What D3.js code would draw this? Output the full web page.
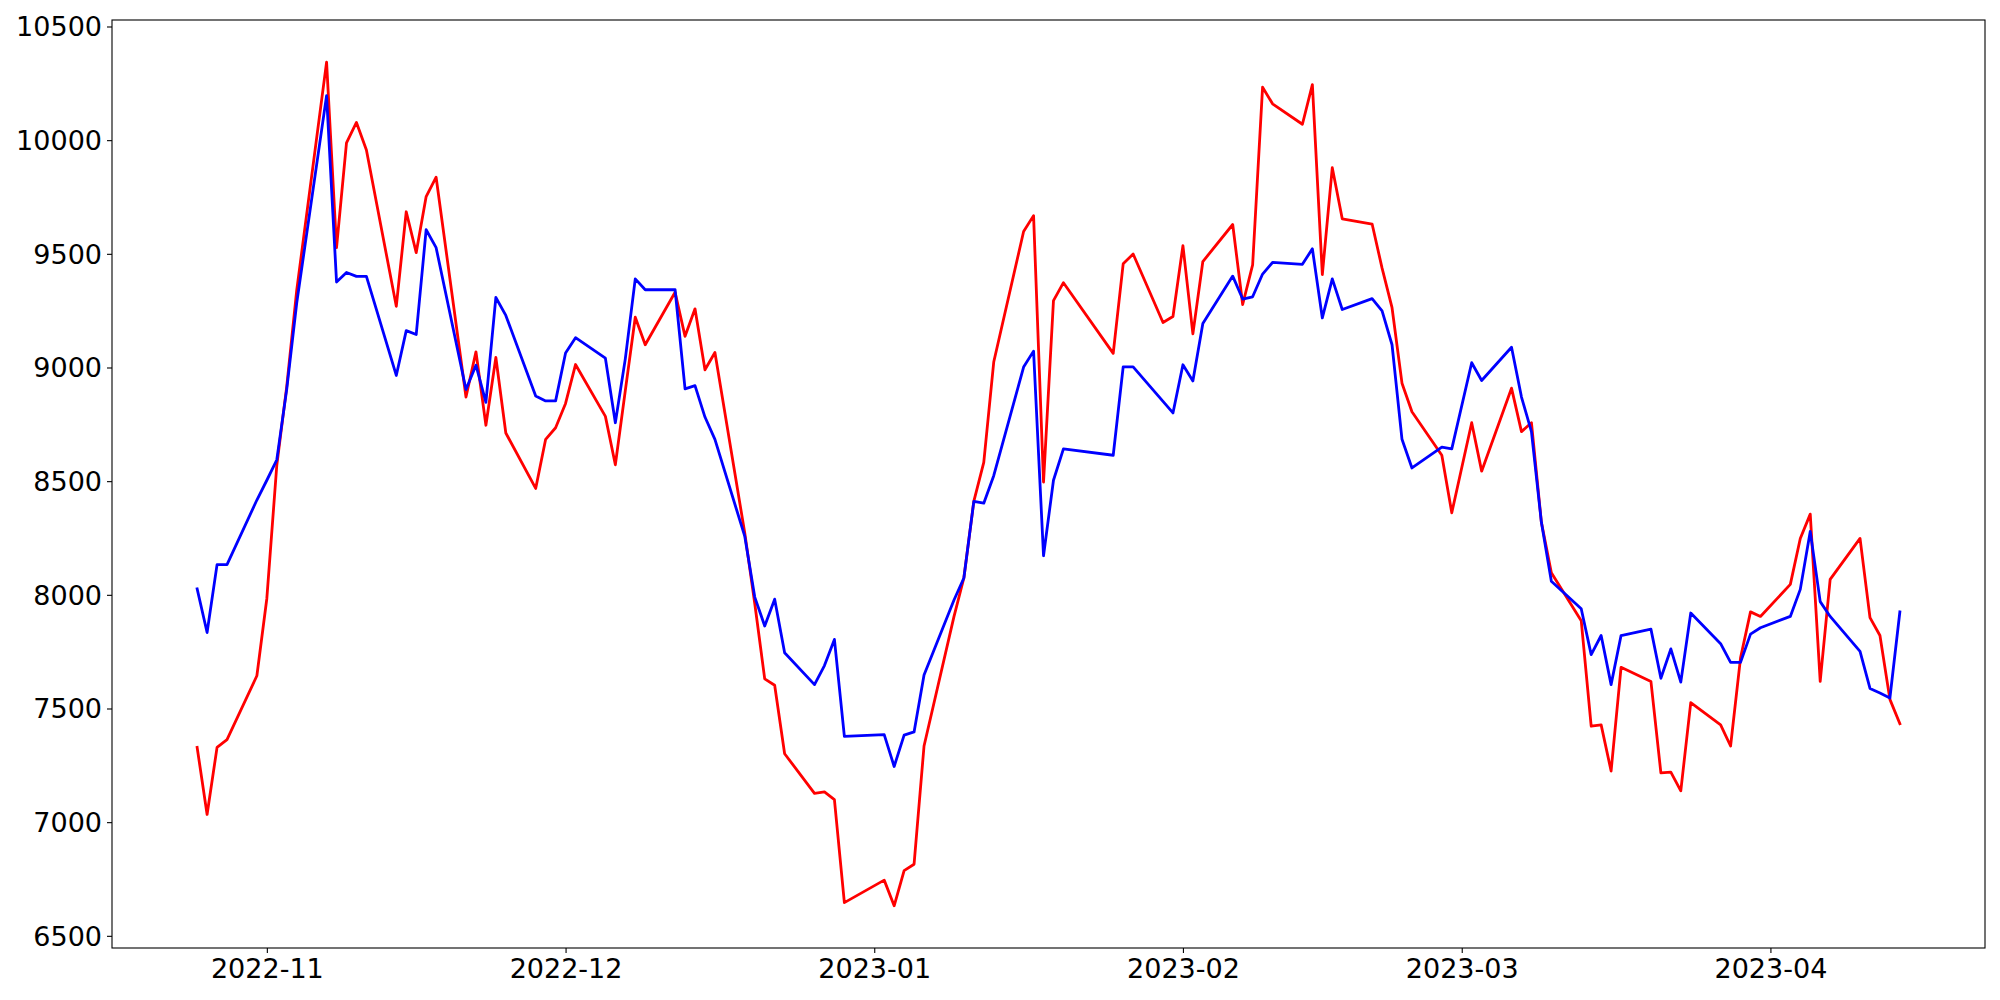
<!DOCTYPE html>
<html>
<head>
<meta charset="utf-8">
<script src="https://cdn.jsdelivr.net/npm/d3@7"></script>
<style>
  html, body { margin: 0; padding: 0; background: #fff; }
  svg { display: block; }
  text { font-family: "DejaVu Sans", sans-serif; }
</style>
</head>
<body>
<svg id="chart" width="2000" height="1000"></svg>
<script>
const dates = [
  "2022-10-25","2022-10-26","2022-10-27","2022-10-28","2022-10-31",
  "2022-11-01","2022-11-02","2022-11-03","2022-11-04","2022-11-07",
  "2022-11-08","2022-11-09","2022-11-10","2022-11-11","2022-11-14",
  "2022-11-15","2022-11-16","2022-11-17","2022-11-18","2022-11-21",
  "2022-11-22","2022-11-23","2022-11-24","2022-11-25","2022-11-28",
  "2022-11-29","2022-11-30","2022-12-01","2022-12-02","2022-12-05",
  "2022-12-06","2022-12-07","2022-12-08","2022-12-09","2022-12-12",
  "2022-12-13","2022-12-14","2022-12-15","2022-12-16","2022-12-19",
  "2022-12-20","2022-12-21","2022-12-22","2022-12-23","2022-12-26",
  "2022-12-27","2022-12-28","2022-12-29","2023-01-02","2023-01-03",
  "2023-01-04","2023-01-05","2023-01-06","2023-01-09","2023-01-10",
  "2023-01-11","2023-01-12","2023-01-13","2023-01-16","2023-01-17",
  "2023-01-18","2023-01-19","2023-01-20","2023-01-25","2023-01-26",
  "2023-01-27","2023-01-30","2023-01-31","2023-02-01","2023-02-02",
  "2023-02-03","2023-02-06","2023-02-07","2023-02-08","2023-02-09",
  "2023-02-10","2023-02-13","2023-02-14","2023-02-15","2023-02-16",
  "2023-02-17","2023-02-20","2023-02-21","2023-02-22","2023-02-23",
  "2023-02-24","2023-02-27","2023-02-28","2023-03-02","2023-03-03",
  "2023-03-06","2023-03-07","2023-03-08","2023-03-09","2023-03-10",
  "2023-03-13","2023-03-14","2023-03-15","2023-03-16","2023-03-17",
  "2023-03-20","2023-03-21","2023-03-22","2023-03-23","2023-03-24",
  "2023-03-27","2023-03-28","2023-03-29","2023-03-30","2023-03-31",
  "2023-04-03","2023-04-04","2023-04-05","2023-04-06","2023-04-07",
  "2023-04-10","2023-04-11","2023-04-12","2023-04-13","2023-04-14"
];

const redValues = [
  7329,7034,7329,7363,7644,
  7984,8570,8917,9339,10343,
  9527,9988,10078,9957,9269,
  9685,9505,9752,9837,8870,
  9069,8746,9044,8712,8468,
  8684,8735,8842,9013,8785,
  8572,8898,9221,9100,9331,
  9137,9258,8990,9066,8271,
  7962,7630,7602,7301,7127,
  7133,7099,6646,6745,6632,
  6787,6815,7335,7903,8074,
  8411,8583,9024,9598,9668,
  8496,9294,9373,9062,9456,
  9499,9198,9224,9536,9148,
  9466,9629,9277,9451,10233,
  10160,10070,10244,9409,9879,
  9654,9631,9437,9263,8931,
  8805,8614,8361,8757,8544,
  8909,8718,8757,8319,8097,
  7886,7422,7428,7225,7681,
  7619,7217,7220,7138,7526,
  7428,7335,7723,7925,7905,
  8046,8248,8355,7619,8068,
  8248,7900,7821,7540,7433
];

const blueValues = [
  8026,7834,8133,8133,8417,
  8504,8594,8905,9283,10196,
  9376,9418,9401,9401,8965,
  9162,9145,9606,9527,8903,
  9010,8847,9308,9229,8875,
  8853,8853,9064,9131,9041,
  8757,9038,9390,9342,9342,
  8906,8920,8782,8684,8257,
  7990,7863,7981,7745,7605,
  7689,7804,7377,7385,7245,
  7383,7397,7647,7976,8074,
  8411,8403,8524,9002,9072,
  8172,8504,8642,8614,9003,
  9003,8851,8800,9012,8941,
  9194,9402,9301,9311,9411,
  9462,9454,9522,9218,9390,
  9255,9303,9249,9100,8684,
  8558,8650,8642,9021,8943,
  9089,8870,8718,8319,8060,
  7939,7737,7821,7605,7821,
  7849,7633,7762,7616,7920,
  7785,7703,7703,7827,7855,
  7905,8024,8279,7970,7905,
  7751,7588,7568,7546,7925
];

const yTickValues = [6500,7000,7500,8000,8500,9000,9500,10000,10500];
const xTickLabels = ["2022-11","2022-12","2023-01","2023-02","2023-03","2023-04"];

const parse = d3.utcParse("%Y-%m-%d");
const parseMonth = d3.utcParse("%Y-%m");
const dt = dates.map(parse);

const margin = {left: 112, right: 15, top: 20, bottom: 52};
const W = 2000, H = 1000;

// matplotlib-style 5% margins
const tExt = d3.extent(dt);
const tPad = (tExt[1] - tExt[0]) * 0.05;
const x = d3.scaleUtc()
  .domain([new Date(+tExt[0] - tPad), new Date(+tExt[1] + tPad)])
  .range([margin.left, W - margin.right]);

const allV = redValues.concat(blueValues);
const vExt = d3.extent(allV);
const vPad = (vExt[1] - vExt[0]) * 0.05;
const y = d3.scaleLinear()
  .domain([vExt[0] - vPad, vExt[1] + vPad])
  .range([H - margin.bottom, margin.top]);

const svg = d3.select("#chart");

const line = d3.line()
  .x((d, i) => x(dt[i]))
  .y(d => y(d));

svg.append("path")
  .datum(redValues)
  .attr("fill", "none")
  .attr("stroke", "#ff0000")
  .attr("stroke-width", 2.8)
  .attr("stroke-linejoin", "round")
  .attr("stroke-linecap", "square")
  .attr("d", line);

svg.append("path")
  .datum(blueValues)
  .attr("fill", "none")
  .attr("stroke", "#0000ff")
  .attr("stroke-width", 2.8)
  .attr("stroke-linejoin", "round")
  .attr("stroke-linecap", "square")
  .attr("d", line);

// Axes
const fontSize = "27px";
const xAxis = d3.axisBottom(x)
  .tickValues(xTickLabels.map(parseMonth))
  .tickFormat(d3.utcFormat("%Y-%m"))
  .tickSize(5)
  .tickPadding(5);

const gx = svg.append("g")
  .attr("transform", `translate(0,${H - margin.bottom})`)
  .call(xAxis);
gx.select(".domain").remove();
gx.selectAll("line").attr("stroke", "#000").attr("stroke-width", 1.1);
gx.selectAll("text").attr("font-size", fontSize).attr("fill", "#000")
  .attr("font-family", "DejaVu Sans").attr("dy", "0.75em");

const yAxis = d3.axisLeft(y)
  .tickValues(yTickValues)
  .tickFormat(d3.format("d"))
  .tickSize(5)
  .tickPadding(5);

const gy = svg.append("g")
  .attr("transform", `translate(${margin.left},0)`)
  .call(yAxis);
gy.select(".domain").remove();
gy.selectAll("line").attr("stroke", "#000").attr("stroke-width", 1.1);
gy.selectAll("text").attr("font-size", fontSize).attr("fill", "#000")
  .attr("font-family", "DejaVu Sans").attr("dy", "0.35em");

// frame
svg.append("rect")
  .attr("x", margin.left)
  .attr("y", margin.top)
  .attr("width", W - margin.right - margin.left)
  .attr("height", H - margin.bottom - margin.top)
  .attr("fill", "none")
  .attr("stroke", "#000")
  .attr("stroke-width", 1.1);
</script>
</body>
</html>
